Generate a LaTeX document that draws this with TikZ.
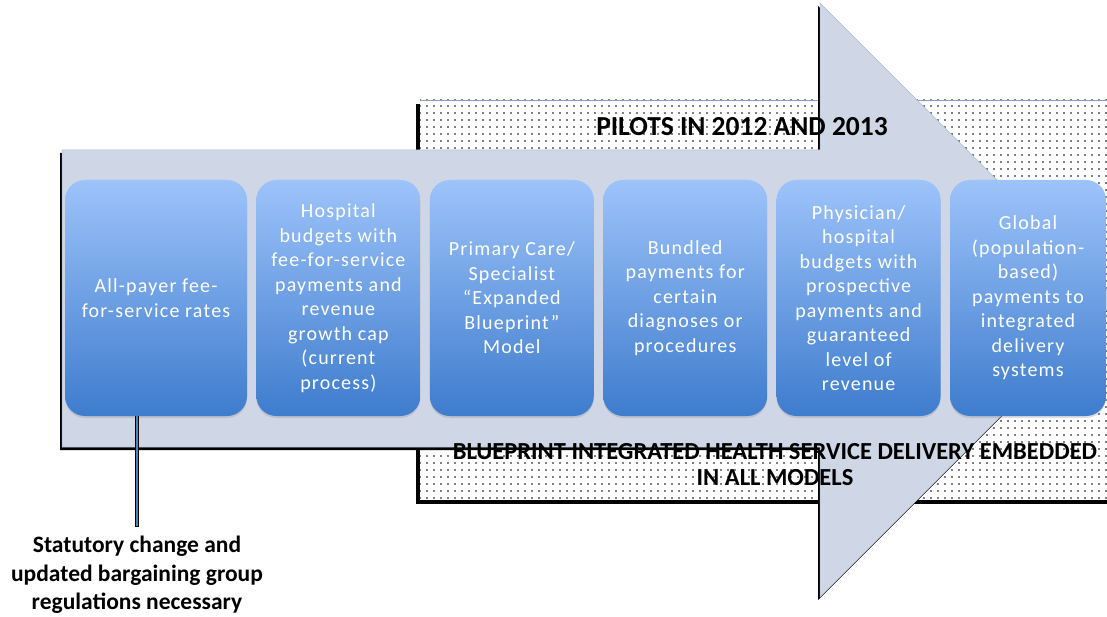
\documentclass[tikz,border=0pt]{standalone}
\usepackage{fontspec}
\setmainfont{Carlito}
\usetikzlibrary{positioning,patterns.meta,shadows}
\definecolor{bpArrow}{HTML}{CFD6E5}
\definecolor{bpTop}{HTML}{9DC3FA}
\definecolor{bpBottom}{HTML}{3E7CCD}
\definecolor{bpLine}{HTML}{4F81BD}
\definecolor{bpEdge}{HTML}{8DA2C0}

\begin{document}
\begin{tikzpicture}[x=1pt,y=-1pt,
  stage/.style={rounded corners=20pt,top color=bpTop,bottom color=bpBottom,
                minimum width=164pt,minimum height=236pt,inner sep=0pt,
                align=center,text=white,
                font=\fontsize{20}{24.5}\selectfont\addfontfeature{LetterSpace=6},
                drop shadow={opacity=0.25,shadow xshift=0pt,shadow yshift=-2pt}},
  banner/.style={align=center,font=\fontsize{24.5}{26}\selectfont\bfseries},
  note/.style={align=center,inner ysep=9pt,
               font=\fontsize{23.5}{28.5}\selectfont\bfseries},
  connector/.style={bpLine,line width=2.5pt}]
  \useasboundingbox (0,0) rectangle (1107,617);
  \clip (0,0) rectangle (1107,617);

  % dotted band behind the arrow
  \fill[black] (416,104) rectangle (1112,504);
  \fill[white] (420,100) rectangle (1112,500);
  \fill[pattern={Dots[distance=7pt,radius=0.95pt]},pattern color=black]
    (420,100) rectangle (1112,500);
  \draw[bpEdge,line width=0.8pt] (420,100) -- (1112,100);

  % big arrow with its shadow
  \fill[black,shift={(-2,3)}] (62,150) -- (820,150) -- (820,3) -- (1117,300)
    -- (820,597) -- (820,447) -- (62,447) -- cycle;
  \fill[bpArrow,draw=bpEdge!70,line width=0.5pt] (62,150) -- (820,150) -- (820,3)
    -- (1117,300) -- (820,597) -- (820,447) -- (62,447) -- cycle;

  % payment models
  \node[stage,minimum width=182pt] (a) at (156,298) {All-payer fee-\\for-service rates};
  \node[stage,right=9pt of a] (b) {Hospital\\budgets with\\fee-for-service\\payments and\\revenue\\growth cap\\(current\\process)};
  \node[stage,right=9pt of b] (c) {Primary Care/\\Specialist\\``Expanded\\Blueprint''\\Model};
  \node[stage,right=9pt of c] (d) {Bundled\\payments for\\certain\\diagnoses or\\procedures};
  \node[stage,right=9pt of d] (e) {Physician/\\hospital\\budgets with\\prospective\\payments and\\guaranteed\\level of\\revenue};
  \node[stage,minimum width=156pt,right=9pt of e] (f) {Global\\(population-\\based)\\payments to\\integrated\\delivery\\systems};

  \node[banner,font=\fontsize{27.5}{30}\selectfont\bfseries] (pilots) at (742,127) {PILOTS IN 2012 AND 2013};
  \node[banner] (embed) at (775,465) {BLUEPRINT INTEGRATED HEALTH SERVICE DELIVERY EMBEDDED\\IN ALL MODELS};

  \node[note] (g) at (137,575) {Statutory change and\\updated bargaining group\\regulations necessary};
  \draw[black,line width=4pt] (g.north) -- (g.north |- a.south);
  \draw[connector] ([yshift=1pt]g.north) -- (g.north |- a.south);
\end{tikzpicture}
\end{document}
